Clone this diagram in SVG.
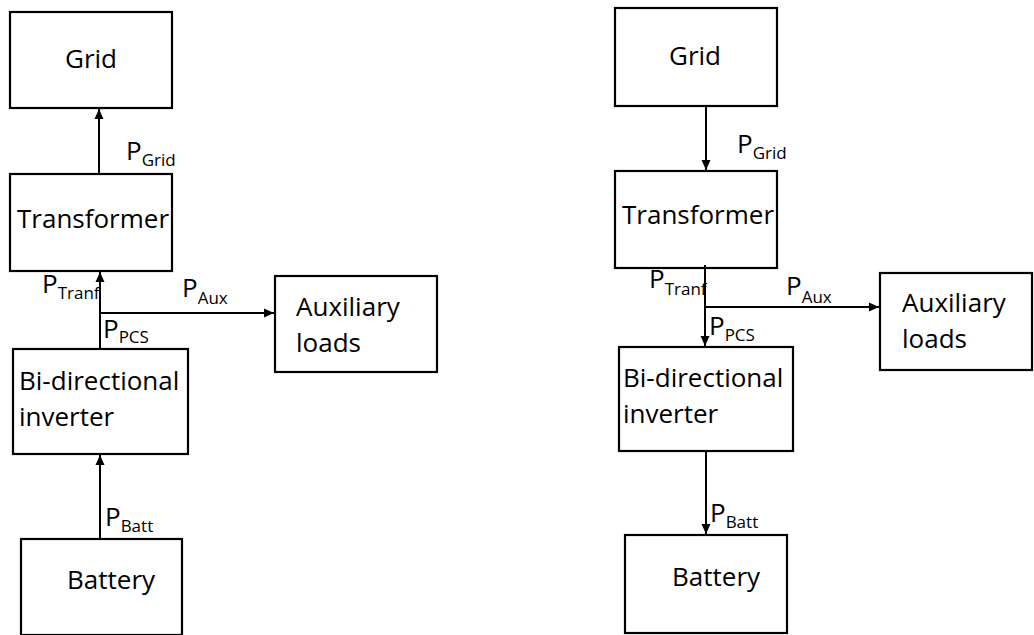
<svg xmlns="http://www.w3.org/2000/svg" width="1034" height="635" viewBox="0 0 1034 635">
<style>
rect.box{fill:#fff;stroke:#000;stroke-width:2.2}
text{font-family:"Open Sans","Liberation Sans",sans-serif;font-size:26px;fill:#000}
tspan.sub{font-size:17px}
.conn{stroke:#000;stroke-width:2;fill:none}
</style>
<defs>
<marker id="ah" markerUnits="userSpaceOnUse" markerWidth="12" markerHeight="12" refX="10" refY="5" orient="auto">
<path d="M0,0.5 L10,5 L0,9.5 Z" fill="#000"/>
</marker>
</defs>
<rect width="1034" height="635" fill="#fff"/>
<!-- Left diagram -->
<g id="L-grid"><rect class="box" x="10" y="12" width="162" height="96"/><text x="91" y="68" text-anchor="middle">Grid</text></g>
<g id="L-transformer"><rect class="box" x="10" y="174" width="162" height="97"/><text x="17" y="228">Transformer</text></g>
<g id="L-aux"><rect class="box" x="275" y="276" width="162" height="96"/><text x="296" y="316">Auxiliary</text><text x="296" y="352">loads</text></g>
<g id="L-inverter"><rect class="box" x="13" y="349" width="175" height="105"/><text x="19" y="390">Bi-directional</text><text x="19" y="426">inverter</text></g>
<g id="L-battery"><rect class="box" x="21" y="539" width="161" height="96"/><text x="67" y="589">Battery</text></g>
<!-- Right diagram -->
<g id="R-grid"><rect class="box" x="615" y="8" width="162" height="98"/><text x="695" y="65" text-anchor="middle">Grid</text></g>
<g id="R-transformer"><rect class="box" x="615" y="171" width="162" height="97"/><text x="622" y="224">Transformer</text></g>
<g id="R-aux"><rect class="box" x="880" y="273" width="152" height="97"/><text x="902" y="312">Auxiliary</text><text x="902" y="348">loads</text></g>
<g id="R-inverter"><rect class="box" x="619" y="347" width="174" height="104"/><text x="623" y="387">Bi-directional</text><text x="623" y="423">inverter</text></g>
<g id="R-battery"><rect class="box" x="625" y="535" width="162" height="98"/><text x="672" y="586">Battery</text></g>
<g id="connectors">
<line class="conn" x1="99" y1="174" x2="99" y2="109" marker-end="url(#ah)"/>
<line class="conn" x1="100" y1="349" x2="100" y2="272" marker-end="url(#ah)"/>
<line class="conn" x1="100" y1="313" x2="274" y2="313" marker-end="url(#ah)"/>
<line class="conn" x1="100" y1="539" x2="100" y2="455" marker-end="url(#ah)"/>
<line class="conn" x1="706" y1="106" x2="706" y2="170" marker-end="url(#ah)"/>
<line class="conn" x1="705" y1="265" x2="705" y2="346" marker-end="url(#ah)"/>
<line class="conn" x1="705" y1="307" x2="879" y2="307" marker-end="url(#ah)"/>
<line class="conn" x1="706" y1="451" x2="706" y2="534" marker-end="url(#ah)"/>
</g>
<g id="labels">
<text x="126" y="160">P<tspan class="sub" dy="6">Grid</tspan></text>
<text x="42" y="293">P<tspan class="sub" dy="6">Tranf</tspan></text>
<text x="182" y="297">P<tspan class="sub" dy="7">Aux</tspan></text>
<text x="103" y="338">P<tspan class="sub" dy="5">PCS</tspan></text>
<text x="105" y="526">P<tspan class="sub" dy="6">Batt</tspan></text>
<text x="737" y="153">P<tspan class="sub" dy="6">Grid</tspan></text>
<text x="649" y="288">P<tspan class="sub" dy="7">Tranf</tspan></text>
<text x="786" y="295">P<tspan class="sub" dy="8">Aux</tspan></text>
<text x="709" y="335">P<tspan class="sub" dy="6">PCS</tspan></text>
<text x="710" y="522">P<tspan class="sub" dy="6">Batt</tspan></text>
</g>
</svg>
